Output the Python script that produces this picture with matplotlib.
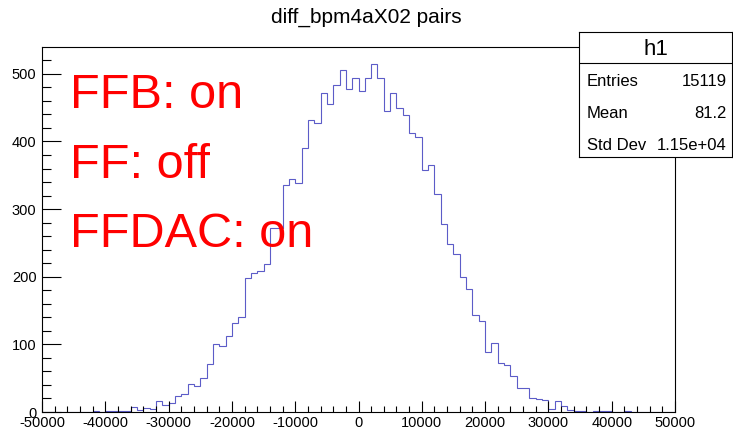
import numpy as np
import matplotlib
matplotlib.use('Agg')
import matplotlib.pyplot as plt
from matplotlib.ticker import MultipleLocator, FormatStrFormatter

##### histogram contents (100 bins from -50000 to 50000)
bin_lo = -50000
bin_hi = 50000
counts = [0, 0, 0, 0, 0, 0, 0, 0, 1, 0,
          1, 2, 1, 2, 7, 3, 6, 5, 16, 11,
          14, 23, 27, 42, 38, 50, 71, 100, 98, 113,
          132, 141, 198, 206, 208, 219, 272, 272, 335, 344,
          338, 390, 432, 427, 471, 455, 483, 506, 477, 494,
          474, 494, 514, 494, 445, 471, 449, 439, 412, 407,
          358, 365, 322, 278, 249, 234, 199, 182, 143, 135,
          89, 102, 72, 69, 53, 36, 36, 20, 19, 18,
          5, 17, 9, 3, 2, 1, 0, 1, 1, 1,
          0, 0, 1, 0, 0, 0, 0, 0, 0, 0]

##### texts
title_text = 'diff_bpm4aX02 pairs'
status_lines = ['FFB: on', 'FF: off', 'FFDAC: on']
stats_name = 'h1'
stats_labels = ['Entries', 'Mean', 'Std Dev']
stats_values = ['15119', '81.2', '1.15e+04']

##### figure set up (pixel layout of the original canvas)
W, H = 733, 434
plt.rcParams['font.family'] = ['Liberation Sans', 'DejaVu Sans']
plt.rcParams['axes.unicode_minus'] = False

fig = plt.figure(figsize=(W / 100, H / 100), dpi=100)
fig.patch.set_facecolor('white')

ax = fig.add_axes([42 / W, (H - 412) / H, 633 / W, 365 / H])
edges = np.linspace(bin_lo, bin_hi, len(counts) + 1)
ax.stairs(counts, edges, color='#5c5cc8', linewidth=0.8)

ax.set_xlim(bin_lo, bin_hi)
ax.set_ylim(0, max(counts) * 1.05)
ax.xaxis.set_major_locator(MultipleLocator(10000))
ax.xaxis.set_minor_locator(MultipleLocator(2000))
ax.yaxis.set_major_locator(MultipleLocator(100))
ax.yaxis.set_minor_locator(MultipleLocator(20))
ax.xaxis.set_major_formatter(FormatStrFormatter('%d'))
ax.yaxis.set_major_formatter(FormatStrFormatter('%d'))
ax.tick_params(which='both', direction='in', top=False, right=False, labelsize=10.5, width=0.8)
ax.tick_params(axis='x', which='major', length=8, pad=3)
ax.tick_params(axis='x', which='minor', length=4)
ax.tick_params(axis='y', which='major', length=13.5, pad=4)
ax.tick_params(axis='y', which='minor', length=6.8)
for sp in ax.spines.values():
    sp.set_linewidth(0.8)

##### title
fig.text(0.5, (H - 17) / H, title_text, ha='center', va='center', fontsize=15)

##### red status text
status_base = [108, 178, 247]
for txt, yb in zip(status_lines, status_base):
    fig.text(70 / W, (H - yb) / H, txt, color='red', fontsize=35, ha='left', va='baseline')

##### stats box
bx_l, bx_r, bx_t, bx_b = 579, 732, 32, 157
sax = fig.add_axes([bx_l / W, (H - bx_b) / H, (bx_r - bx_l) / W, (bx_b - bx_t) / H])
sax.set_xlim(0, 1)
sax.set_ylim(0, 1)
sax.set_xticks([])
sax.set_yticks([])
sax.set_facecolor('white')
for sp in sax.spines.values():
    sp.set_linewidth(0.8)
bh = bx_b - bx_t
sep = (bx_b - 63) / bh
sax.axhline(sep, color='black', linewidth=0.8)
sax.text(0.5, (bx_b - 49) / bh, stats_name, ha='center', va='center', fontsize=16)
row_y = [81.7, 113.3, 145]
for lab, val, yy in zip(stats_labels, stats_values, row_y):
    sax.text(0.052, (bx_b - yy) / bh, lab, ha='left', va='center', fontsize=12)
    sax.text(0.967, (bx_b - yy) / bh, val, ha='right', va='center', fontsize=12)

fig.savefig('out.png', dpi=100)
